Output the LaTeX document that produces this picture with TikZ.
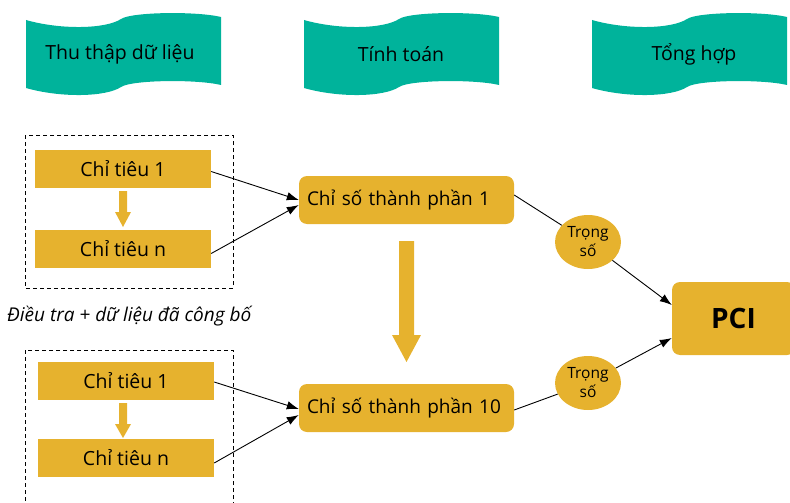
\documentclass[tikz,border=0pt]{standalone}
\usepackage{fontspec}
\setmainfont{Open Sans}
\usetikzlibrary{arrows.meta,shapes.geometric}
\definecolor{tealc}{RGB}{0,179,155}
\definecolor{gold}{RGB}{230,178,46}
\tikzset{
  banner/.style={fill=tealc},
  bantext/.style={font=\fontsize{19.5}{22}\selectfont, inner sep=0},
  ctbox/.style={fill=gold, minimum width=176pt, minimum height=38pt, inner sep=0, font=\fontsize{19.5}{22}\selectfont},
  csbox/.style={fill=gold, rounded corners=8pt, minimum width=215pt, minimum height=48pt, text width=199pt, inner xsep=8pt, inner ysep=0, align=left, font=\fontsize{19}{22}\selectfont},
  wbox/.style={fill=gold, ellipse, minimum width=66pt, minimum height=54pt, inner sep=0, align=center, font=\fontsize{15.5}{19}\selectfont},
  pcibox/.style={fill=gold, rounded corners=8pt, minimum width=123pt, minimum height=73pt, inner sep=0, font=\fontsize{28}{30}\selectfont\bfseries},
  conn/.style={line width=0.9pt, -{Latex[length=12pt,width=8.5pt]}},
  plain/.style={line width=0.9pt},
  dbox/.style={line width=0.9pt, dash pattern=on 4pt off 3pt},
  blockarrow/.style={fill=gold}
}
\newcommand{\bannershape}[1]{%
  \fill[banner,shift={(#1,0)}] (0,20) .. controls (35,30) and (80,29) .. (95,19)
    .. controls (105,12) and (170,11) .. (195,17) -- (195,85)
    .. controls (170,79) and (105,80) .. (95,87)
    .. controls (80,97) and (35,98) .. (0,88) -- cycle;}
\begin{document}
\begin{tikzpicture}[x=1pt,y=-1pt]
\useasboundingbox (0,0) rectangle (790,503);
\clip (0,0) rectangle (790,503);
% banners
\bannershape{26}
\bannershape{304}
\bannershape{592}
\node[bantext] (b1) at (120,54) {Thu thập dữ liệu};
\node[bantext] (b2) at (401,54) {Tính toán};
\node[bantext] (b3) at (694,54) {Tổng hợp};
% dashed groups
\draw[dbox] (25,135) rectangle (233,288);
\draw[dbox] (25,350) rectangle (233,520);
% top group
\node[ctbox] (ta) at (123,168.5) {Chỉ tiêu 1};
\node[ctbox] (tn) at (123,248.5) {Chỉ tiêu n};
\fill[blockarrow] (119,191) -- (127,191) -- (127,212) -- (131,212) -- (123,227) -- (115,212) -- (119,212) -- cycle;
% bottom group
\node[ctbox] (ba) at (126,380.5) {Chỉ tiêu 1};
\node[ctbox] (bn) at (126,458) {Chỉ tiêu n};
\fill[blockarrow] (119,403) -- (127,403) -- (127,424) -- (131,424) -- (123,438) -- (115,424) -- (119,424) -- cycle;
% caption
\node[anchor=west, inner sep=0, font=\fontsize{19}{22}\selectfont\itshape] (cap) at (7,316) {Điều tra + dữ liệu đã công bố};
% component indices
\node[csbox] (c1) at (406.5,200) {Chỉ số thành phần 1};
\node[csbox] (c10) at (406.5,408) {Chỉ số thành phần 10};
\fill[blockarrow] (399,241) -- (414,241) -- (414,335) -- (421,335) -- (406.5,362) -- (392,335) -- (399,335) -- cycle;
% weights
\node[wbox] (w1) at (588,242) {Trọng\\số};
\node[wbox] (w2) at (588,383) {Trọng\\số};
% PCI
\node[pcibox] (pci) at (733.5,318.5) {PCI};
% connectors
\draw[conn] ([yshift=-3pt]ta.east) -- ([yshift=0pt]c1.west);
\draw[conn] ([yshift=-5pt]tn.east) -- ([yshift=-5pt]c1.west);
\draw[conn] ([yshift=-1.5pt]ba.east) -- ([yshift=-1pt]c10.west);
\draw[conn] ([yshift=-5pt]bn.east) -- ([yshift=-7pt]c10.west);
\draw[plain] ([yshift=5pt]c1.east) -- (w1);
\draw[plain] ([yshift=-2pt]c10.east) -- (w2);
\draw[conn] (w1) -- ([yshift=13.5pt]pci.west);
\draw[conn] (w2) -- ([yshift=-19.5pt]pci.west);
\end{tikzpicture}
\end{document}
